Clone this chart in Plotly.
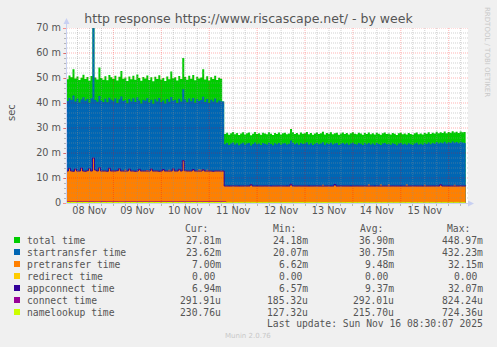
import plotly.graph_objects as go
import pandas as pd

# ---------------- data (milliseconds) ----------------
# hourly samples starting 2025-11-07 23:30
total_pre = [50.2, 49.5, 51.0, 50.3, 53.5, 49.8, 50.6, 49.2, 50.1, 51.3,
             49.6, 50.4, 48.9, 50.8, 448.97, 50.2, 49.4, 54.2, 50.0, 49.3,
             50.7, 49.1, 51.2, 50.3, 49.6, 50.9, 49.0, 50.5, 52.8, 49.7,
             50.2, 48.8, 50.6, 49.5, 50.9, 49.3, 51.4, 50.0, 48.9, 50.4,
             49.8, 51.0, 49.2, 50.3, 48.7, 50.5, 49.6, 51.1, 49.4, 50.0,
             48.8, 50.6, 49.5, 52.6, 49.9, 50.3, 49.0, 50.8, 49.6, 58.0,
             50.4, 49.3, 50.9, 49.7, 51.2, 49.1, 50.5, 49.8, 50.2, 53.5,
             49.4, 50.7, 49.0, 50.3, 49.6, 50.9, 49.2, 50.1, 49.7, 40.6]
total_post = [27.6, 28.1, 27.3, 27.9, 28.4, 27.5, 28.0, 27.2, 27.8, 28.3,
              27.4, 27.9, 28.2, 27.1, 27.7, 28.4, 27.6, 27.9, 27.3, 28.1,
              27.8, 27.5, 28.3, 27.7, 27.2, 28.0, 27.6, 28.2, 27.4, 27.9,
              28.1, 27.5, 27.8, 29.6, 28.3, 27.6, 28.0, 27.4, 28.2, 27.7,
              27.9, 28.4, 27.5, 28.0, 27.3, 27.8, 28.2, 27.6, 27.9, 28.5,
              27.4, 28.0, 27.7, 28.3, 27.5, 27.9, 28.1, 27.3, 27.8, 28.2,
              27.6, 28.0, 27.4, 27.9, 28.3, 27.7, 27.5, 28.1, 27.8, 27.3,
              28.0, 27.6, 28.2, 27.5, 27.9, 27.4, 28.1, 27.7, 27.3, 27.9,
              28.2, 27.6, 27.8, 27.4, 28.0, 27.7, 27.2, 27.9, 28.1, 27.5,
              27.8, 27.4, 28.0, 27.6, 27.3, 27.9, 28.2, 27.5, 27.8, 27.4,
              28.0, 27.7, 28.3, 27.6, 28.1, 27.8, 28.5, 27.9, 28.3, 28.0,
              28.6, 27.9, 28.4, 28.1, 28.7, 28.2, 28.5, 28.0, 28.6, 28.3,
              28.4, 27.81]

start_pre = [41.5, 40.8, 42.0, 41.2, 43.0, 40.6, 41.8, 40.2, 41.4, 42.3,
             40.9, 41.6, 40.1, 41.9, 432.23, 41.2, 40.5, 42.8, 41.0, 40.4,
             41.7, 40.3, 42.1, 41.3, 40.7, 41.8, 40.0, 41.5, 42.6, 40.8,
             41.2, 39.9, 41.6, 40.6, 41.9, 40.4, 42.2, 41.0, 39.8, 41.3,
             40.9, 41.9, 40.2, 41.3, 39.7, 41.5, 40.6, 42.0, 40.4, 41.0,
             39.8, 41.6, 40.5, 42.4, 40.9, 41.3, 40.0, 41.7, 40.6, 45.5,
             41.4, 40.3, 41.8, 40.7, 42.0, 40.1, 41.5, 40.8, 41.2, 42.5,
             40.4, 41.6, 40.0, 41.3, 40.6, 41.8, 40.2, 41.0, 40.7, 40.6]
start_post = [23.5, 24.0, 23.2, 23.8, 24.2, 23.4, 23.9, 23.1, 23.7, 24.1,
              23.3, 23.8, 24.0, 23.0, 23.6, 24.2, 23.5, 23.8, 23.2, 24.0,
              23.7, 23.4, 24.1, 23.6, 23.1, 23.9, 23.5, 24.0, 23.3, 23.8,
              23.9, 23.4, 23.7, 25.0, 24.1, 23.5, 23.9, 23.3, 24.0, 23.6,
              23.8, 24.2, 23.4, 23.9, 23.2, 23.7, 24.0, 23.5, 23.8, 24.3,
              23.3, 23.9, 23.6, 24.1, 23.4, 23.8, 24.0, 23.2, 23.7, 24.0,
              23.5, 23.9, 23.3, 23.8, 24.1, 23.6, 23.4, 24.0, 23.7, 23.2,
              23.9, 23.5, 24.0, 23.4, 23.8, 23.3, 24.0, 23.6, 23.2, 23.8,
              24.0, 23.5, 23.7, 23.3, 23.9, 23.6, 23.1, 23.8, 24.0, 23.4,
              23.7, 23.3, 23.9, 23.5, 23.2, 23.8, 24.1, 23.4, 23.7, 23.3,
              23.9, 23.6, 24.2, 23.5, 24.0, 23.7, 24.4, 23.8, 24.2, 23.9,
              24.5, 23.8, 24.3, 24.0, 24.6, 24.1, 24.4, 23.9, 24.5, 24.2,
              24.0, 23.62]

pretransfer_pre = [12.86, 12.86, 13.95, 12.86, 12.76, 13.66, 12.86, 12.86, 14.06, 12.86,
                   12.76, 12.96, 13.86, 12.86, 18.06, 13.26, 12.86, 14.16, 12.86, 12.86,
                   12.86, 12.76, 13.96, 12.86, 12.86, 12.86, 12.96, 13.76, 12.86, 12.86,
                   13.30, 12.86, 13.66, 12.86, 12.86, 12.76, 12.86, 13.56, 12.86, 12.86,
                   12.86, 13.20, 12.86, 13.66, 12.86, 12.86, 12.86, 12.76, 12.86, 13.46,
                   12.86, 12.86, 13.30, 12.86, 13.76, 12.86, 12.86, 13.56, 12.86, 16.96,
                   12.96, 12.86, 12.86, 12.86, 13.46, 12.86, 12.86, 13.40, 13.30, 13.36,
                   12.86, 13.30, 12.86, 12.86, 12.76, 12.86, 12.86, 12.86, 12.86, 12.86]
pretransfer_post = [6.86, 6.86, 6.85, 6.86, 6.87, 6.86, 6.86, 6.85, 6.86, 6.86,
                    6.86, 6.86, 6.87, 7.40, 6.86, 6.86, 6.85, 6.86, 6.86, 6.86,
                    6.87, 6.86, 6.86, 6.85, 6.86, 6.86, 6.86, 6.87, 6.86, 6.86,
                    6.86, 6.85, 6.86, 7.60, 6.86, 6.86, 6.86, 6.87, 6.86, 6.86,
                    6.86, 6.86, 6.85, 6.86, 6.86, 6.87, 6.86, 6.86, 6.86, 7.30,
                    6.86, 6.86, 6.86, 6.85, 6.86, 7.50, 6.86, 6.86, 6.87, 6.86,
                    6.86, 6.86, 6.86, 6.85, 6.86, 6.86, 6.87, 6.86, 6.86, 6.86,
                    6.86, 6.86, 7.40, 6.86, 6.86, 6.85, 6.86, 6.86, 7.40, 6.86,
                    6.86, 6.86, 7.40, 6.86, 6.87, 6.86, 6.86, 6.86, 6.85, 6.86,
                    6.86, 7.40, 6.86, 6.86, 6.86, 6.87, 6.86, 6.86, 6.86, 6.85,
                    7.30, 6.86, 6.86, 6.86, 6.87, 6.86, 6.86, 6.86, 7.40, 6.86,
                    6.86, 6.86, 6.85, 6.86, 6.86, 7.30, 6.86, 6.86, 6.87, 6.86,
                    6.86, 7.00]

appconnect_pre = [12.80, 12.80, 13.90, 12.80, 12.70, 13.60, 12.80, 12.80, 14.00, 12.80,
                  12.70, 12.90, 13.80, 12.80, 18.00, 13.20, 12.80, 14.10, 12.80, 12.80,
                  12.80, 12.70, 13.90, 12.80, 12.80, 12.80, 12.90, 13.70, 12.80, 12.80,
                  12.80, 12.80, 13.60, 12.80, 12.80, 12.70, 12.80, 13.50, 12.80, 12.80,
                  12.80, 12.80, 12.80, 13.60, 12.80, 12.80, 12.80, 12.70, 12.80, 13.40,
                  12.80, 12.80, 12.80, 12.80, 13.70, 12.80, 12.80, 13.50, 12.80, 16.90,
                  12.90, 12.80, 12.80, 12.80, 13.40, 12.80, 12.80, 12.80, 12.80, 13.30,
                  12.80, 12.80, 12.80, 12.80, 12.70, 12.80, 12.80, 12.80, 12.80, 12.80]
appconnect_post = [6.80, 6.80, 6.79, 6.80, 6.81, 6.80, 6.80, 6.79, 6.80, 6.80,
                   6.80, 6.80, 6.81, 7.30, 6.80, 6.80, 6.79, 6.80, 6.80, 6.80,
                   6.81, 6.80, 6.80, 6.79, 6.80, 6.80, 6.80, 6.81, 6.80, 6.80,
                   6.80, 6.79, 6.80, 7.50, 6.80, 6.80, 6.80, 6.81, 6.80, 6.80,
                   6.80, 6.80, 6.79, 6.80, 6.80, 6.81, 6.80, 6.80, 6.80, 6.80,
                   6.80, 6.80, 6.80, 6.79, 6.80, 7.40, 6.80, 6.80, 6.81, 6.80,
                   6.80, 6.80, 6.80, 6.79, 6.80, 6.80, 6.81, 6.80, 6.80, 6.80,
                   6.80, 6.80, 6.80, 6.80, 6.80, 6.79, 6.80, 6.80, 6.80, 6.80,
                   6.80, 6.80, 6.80, 6.80, 6.81, 6.80, 6.80, 6.80, 6.79, 6.80,
                   6.80, 6.80, 6.80, 6.80, 6.80, 6.81, 6.80, 6.80, 6.80, 6.79,
                   6.80, 6.80, 6.80, 6.80, 6.81, 6.80, 6.80, 6.80, 7.30, 6.80,
                   6.80, 6.80, 6.79, 6.80, 6.80, 6.80, 6.80, 6.80, 6.81, 6.80,
                   6.80, 6.94]

# 3-hourly samples starting 2025-11-07 23:30
connect_3h = [0.46, 0.44, 0.47, 0.45, 0.46, 0.44, 0.48, 0.45, 0.46, 0.44,
              0.47, 0.45, 0.46, 0.45, 0.44, 0.47, 0.45, 0.46, 0.44, 0.46,
              0.45, 0.47, 0.44, 0.46, 0.45, 0.46, 0.45,
              0.22, 0.23, 0.22, 0.21, 0.22, 0.23, 0.22, 0.22, 0.21, 0.23,
              0.22, 0.22, 0.23, 0.21, 0.22, 0.22, 0.23, 0.22, 0.21, 0.22,
              0.23, 0.22, 0.22, 0.21, 0.22, 0.23, 0.22, 0.22, 0.21, 0.22,
              0.23, 0.22, 0.22, 0.21, 0.22, 0.23, 0.22, 0.22, 0.21, 0.22, 0.29]
namelookup_3h = [0.20, 0.21, 0.20, 0.19, 0.20, 0.21, 0.20, 0.20, 0.19, 0.21,
                 0.20, 0.20, 0.21, 0.19, 0.20, 0.20, 0.21, 0.20, 0.19, 0.20,
                 0.21, 0.20, 0.20, 0.19, 0.20, 0.21, 0.20,
                 0.24, 0.23, 0.24, 0.25, 0.24, 0.23, 0.24, 0.24, 0.25, 0.23,
                 0.24, 0.24, 0.23, 0.25, 0.24, 0.24, 0.23, 0.24, 0.25, 0.24,
                 0.23, 0.24, 0.24, 0.25, 0.24, 0.23, 0.24, 0.24, 0.25, 0.24,
                 0.23, 0.24, 0.24, 0.25, 0.24, 0.23, 0.24, 0.24, 0.25, 0.24, 0.23]
redirect_3h = [0.0, 0.0, 0.0, 0.0, 0.0, 0.0, 0.0, 0.0, 0.0, 0.0,
               0.0, 0.0, 0.0, 0.0, 0.0, 0.0, 0.0, 0.0, 0.0, 0.0,
               0.0, 0.0, 0.0, 0.0, 0.0, 0.0, 0.0, 0.0, 0.0, 0.0,
               0.0, 0.0, 0.0, 0.0, 0.0, 0.0, 0.0, 0.0, 0.0, 0.0,
               0.0, 0.0, 0.0, 0.0, 0.0, 0.0, 0.0, 0.0, 0.0, 0.0,
               0.0, 0.0, 0.0, 0.0, 0.0, 0.0, 0.0, 0.0, 0.0, 0.0,
               0.0, 0.0, 0.0, 0.0, 0.0, 0.0, 0.0, 0.0]

y_tick_vals = [0, 10, 20, 30, 40, 50, 60, 70]
y_tick_text = ["0", "10 m", "20 m", "30 m", "40 m", "50 m", "60 m", "70 m"]
x_tick_vals = ["2025-11-08 12:00", "2025-11-09 12:00", "2025-11-10 12:00", "2025-11-11 12:00",
               "2025-11-12 12:00", "2025-11-13 12:00", "2025-11-14 12:00", "2025-11-15 12:00"]
x_tick_text = ["08 Nov", "09 Nov", "10 Nov", "11 Nov", "12 Nov", "13 Nov", "14 Nov", "15 Nov"]

legend_labels = ["total time", "startransfer time", "pretransfer time", "redirect time",
                 "appconnect time", "connect time", "namelookup time"]
legend_colors = ["#00CC00", "#0066B3", "#FF8000", "#FFCC00", "#330099", "#990099", "#CCFF00"]
cur_vals = ["27.81m", "23.62m", "7.00m", "0.00", "6.94m", "291.91u", "230.76u"]
min_vals = ["24.18m", "20.07m", "6.62m", "0.00", "6.57m", "185.32u", "127.32u"]
avg_vals = ["36.90m", "30.75m", "9.48m", "0.00", "9.37m", "292.01u", "215.70u"]
max_vals = ["448.97m", "432.23m", "32.15m", "0.00", "32.07m", "824.24u", "724.36u"]

title_text = "http response https://www.riscascape.net/ - by week"
last_update = "Last update: Sun Nov 16 08:30:07 2025"

# ---------------- layout helpers ----------------
W, H = 497, 347
L, R, T, B = 67, 468, 28, 203


def px(x):
    return (x - L) / (R - L)


def py(y):
    return (B - y) / (B - T)


times = pd.date_range("2025-11-07 23:30", periods=202, freq="h")
times3 = pd.date_range("2025-11-07 23:30", periods=68, freq="3h")

total = total_pre + total_post
startransfer = start_pre + start_post
pretransfer = pretransfer_pre + pretransfer_post
appconnect = appconnect_pre + appconnect_post

TXT = "#555555"
SANS = "DejaVu Sans"
MONO = "DejaVu Sans Mono"

fig = go.Figure()


def area(x, y, color, name):
    fig.add_trace(go.Scatter(x=x, y=y, mode="lines", name=name, fill="tozeroy",
                             fillcolor=color, line=dict(width=0, color=color, shape="hv"),
                             hoverinfo="skip", showlegend=False))


def line(x, y, color, name):
    fig.add_trace(go.Scatter(x=x, y=y, mode="lines", name=name,
                             line=dict(width=1, color=color, shape="hv"),
                             hoverinfo="skip", showlegend=False))


area(times, total, legend_colors[0], legend_labels[0])
area(times, startransfer, legend_colors[1], legend_labels[1])
area(times, pretransfer, legend_colors[2], legend_labels[2])
line(times3, redirect_3h, legend_colors[3], legend_labels[3])
line(times, appconnect, legend_colors[4], legend_labels[4])
line(times3, connect_3h, legend_colors[5], legend_labels[5])
line(times3, namelookup_3h, legend_colors[6], legend_labels[6])

shapes = []
MINOR = "rgba(143,143,143,0.42)"
MAJOR = "rgba(255,0,0,0.30)"
# horizontal grid (drawn above the data like rrdtool)
for v in range(2, 71, 2):
    shapes.append(dict(type="line", xref="paper", yref="y", x0=0, x1=1, y0=v, y1=v,
                       line=dict(color=MAJOR if v % 10 == 0 else MINOR, width=1, dash="1px,1px"),
                       layer="above"))
# vertical grid every 6h, red at midnight
for t in pd.date_range("2025-11-08 06:00", "2025-11-16 06:00", freq="6h"):
    shapes.append(dict(type="line", xref="x", yref="paper", x0=t, x1=t, y0=0, y1=1,
                       line=dict(color=MAJOR if t.hour == 0 else MINOR, width=1, dash="1px,1px"),
                       layer="above"))
AX = "#C8D0F2"
# axes with arrows
shapes.append(dict(type="line", xref="paper", yref="paper", x0=px(66.5), x1=px(66.5),
                   y0=py(203.5), y1=py(23), line=dict(color=AX, width=1), layer="above"))
shapes.append(dict(type="line", xref="paper", yref="paper", x0=px(66.5), x1=px(469),
                   y0=py(203.5), y1=py(203.5), line=dict(color=AX, width=1), layer="above"))
shapes.append(dict(type="path", xref="paper", yref="paper",
                   path=f"M {px(63.5)} {py(24)} L {px(69.5)} {py(24)} L {px(66.5)} {py(18)} Z",
                   fillcolor=AX, line=dict(width=0), layer="above"))
shapes.append(dict(type="path", xref="paper", yref="paper",
                   path=f"M {px(468)} {py(200.5)} L {px(468)} {py(206.5)} L {px(474)} {py(203.5)} Z",
                   fillcolor=AX, line=dict(width=0), layer="above"))

annotations = []


def ann(x, y, text, anchor="left", font=MONO, size=9.7, color=TXT, angle=0):
    annotations.append(dict(xref="paper", yref="paper", x=px(x), y=py(y), text=text,
                            showarrow=False, xanchor=anchor, yanchor="middle",
                            textangle=angle, borderpad=0, borderwidth=0,
                            font=dict(family=font, size=size, color=color)))


ann(11, 113, "sec", anchor="center", font=SANS, size=10, angle=-90)
ann(487, 52, "RRDTOOL / TOBI OETIKER", anchor="center", font=SANS, size=7,
    color="#C8C8C8", angle=90)
ann(248, 336, "Munin 2.0.76", anchor="center", font=SANS, size=7, color="#C8C8C8")

# legend header
ann(185, 228, "Cur:")
ann(272.5, 228, "Min:")
ann(360, 228, "Avg:")
ann(446.5, 228, "Max:")
rows_y = [240, 252, 264, 276, 288, 300, 312]
for i, yv in enumerate(rows_y):
    shapes.append(dict(type="rect", xref="paper", yref="paper",
                       x0=px(14), x1=px(20), y0=py(yv + 3), y1=py(yv - 3),
                       fillcolor=legend_colors[i], line=dict(width=0)))
    ann(26.5, yv, legend_labels[i])
    for edge, vals in ((221, cur_vals), (308, min_vals), (394, avg_vals), (483, max_vals)):
        v = vals[i]
        e = edge if v[-1] in "mu" else edge - 6
        ann(e, yv, v, anchor="right")
ann(483, 323.5, last_update, anchor="right")

fig.update_layout(
    width=W, height=H,
    margin=dict(l=L, r=W - R, t=T, b=H - B, pad=0, autoexpand=False),
    paper_bgcolor="#F0F0F0", plot_bgcolor="#FFFFFF",
    title=dict(text=title_text, x=0.5, xref="container", xanchor="center",
               y=1 - 19 / H, yref="container", yanchor="middle",
               font=dict(family=SANS, size=12.5, color=TXT)),
    showlegend=False,
    shapes=shapes, annotations=annotations,
    xaxis=dict(type="date", range=["2025-11-08 00:45", "2025-11-16 09:40"],
               tickmode="array", tickvals=x_tick_vals, ticktext=x_tick_text,
               ticks="", showgrid=False, zeroline=False, showline=False,
               tickfont=dict(family=SANS, size=9.7, color=TXT),
               minor=dict(tickmode="array",
                          tickvals=list(pd.date_range("2025-11-08 06:00", "2025-11-16 06:00", freq="6h")),
                          ticks="outside", ticklen=2, tickcolor="rgba(143,143,143,0.6)", showgrid=False),
               fixedrange=True),
    yaxis=dict(range=[0, 70], tickmode="array", tickvals=y_tick_vals, ticktext=y_tick_text,
               ticks="outside", ticklen=3, tickcolor="rgba(255,0,0,0.4)",
               showgrid=False, zeroline=False, showline=False,
               tickfont=dict(family=SANS, size=9.7, color=TXT),
               minor=dict(tickmode="array", tickvals=list(range(2, 70, 2)), ticks="outside",
                          ticklen=2, tickcolor="rgba(143,143,143,0.6)", showgrid=False),
               fixedrange=True),
)

fig.write_html("out.html", config={"displayModeBar": False})
